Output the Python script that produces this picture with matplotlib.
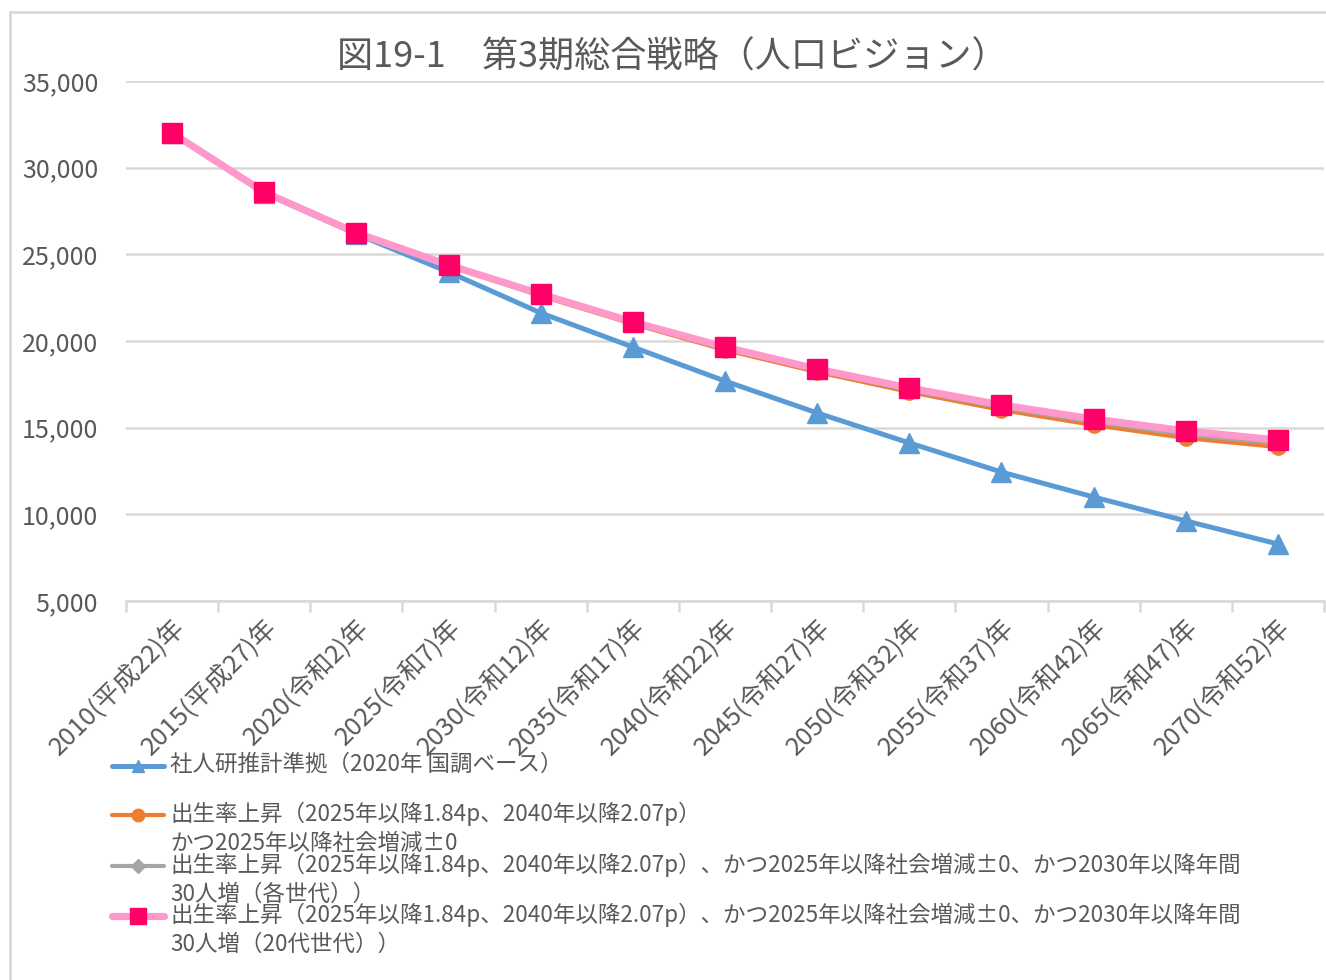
import matplotlib
matplotlib.use("Agg")
import matplotlib.pyplot as plt
from matplotlib.lines import Line2D
import matplotlib.transforms as mtransforms
import numpy as np

plt.rcParams['font.family'] = ['Noto Sans CJK JP', 'DejaVu Sans']

title = "図19-1　第3期総合戦略（人口ビジョン）"
categories = ["2010(平成22)年", "2015(平成27)年", "2020(令和2)年", "2025(令和7)年",
              "2030(令和12)年", "2035(令和17)年", "2040(令和22)年", "2045(令和27)年",
              "2050(令和32)年", "2055(令和37)年", "2060(令和42)年", "2065(令和47)年",
              "2070(令和52)年"]

series_ipss = [32000, 28540, 26170, 23980, 21620, 19650, 17690, 15850, 14120, 12440, 11000, 9620, 8290]
series_birth = [32000, 28560, 26200, 24330, 22600, 20980, 19480, 18210, 17060, 16020, 15150, 14400, 13880]
series_birth_30all = [32000, 28570, 26220, 24360, 22650, 21040, 19570, 18300, 17170, 16170, 15330, 14600, 14090]
series_birth_30twenties = [32000, 28580, 26240, 24380, 22710, 21100, 19650, 18380, 17290, 16310, 15500, 14810, 14290]

labels = [
    "社人研推計準拠（2020年 国調ベース）",
    "出生率上昇（2025年以降1.84p、2040年以降2.07p）\nかつ2025年以降社会増減±0",
    "出生率上昇（2025年以降1.84p、2040年以降2.07p）、かつ2025年以降社会増減±0、かつ2030年以降年間\n30人増（各世代））",
    "出生率上昇（2025年以降1.84p、2040年以降2.07p）、かつ2025年以降社会増減±0、かつ2030年以降年間\n30人増（20代世代））",
]

yticks = [5000, 10000, 15000, 20000, 25000, 30000, 35000]

W, H = 1326, 980
fig = plt.figure(figsize=(W / 100, H / 100), dpi=100)
fig.patch.set_facecolor("white")

def fx(px):
    return px / W

def fy(py):
    return 1 - py / H

ax = fig.add_axes([fx(126), fy(601), fx(1324) - fx(126), fy(81) - fy(601)])

x = np.arange(len(categories))
text_color = "#595959"
grid_color = "#D9D9D9"

styles = [
    dict(color="#5B9BD5", lw=3.6, marker="^", ms=15, mfc="#5B9BD5", mec="#5B9BD5"),
    dict(color="#ED7D31", lw=3.0, marker="o", ms=11, mfc="#ED7D31", mec="#ED7D31"),
    dict(color="#A5A5A5", lw=3.0, marker="D", ms=5, mfc="#A5A5A5", mec="#A5A5A5"),
    dict(color="#FF99CC", lw=5.2, marker="s", ms=14, mfc="#FF0066", mec="#FF0066"),
]
data = [series_ipss, series_birth, series_birth_30all, series_birth_30twenties]

for d, st in zip(data, styles):
    ax.plot(x, d, solid_joinstyle="round", solid_capstyle="round", zorder=3, **st)

ax.set_xlim(-0.5, len(categories) - 0.5)
ax.set_ylim(5000, 35000)
ax.set_yticks(yticks)
ax.set_yticklabels([f"{v:,}" for v in yticks], fontsize=18, color=text_color)
ax.yaxis.grid(True, color=grid_color, lw=1.8)
ax.set_axisbelow(True)
ax.tick_params(axis="y", length=0, pad=20)

for s in ["top", "right", "left"]:
    ax.spines[s].set_visible(False)
ax.spines["bottom"].set_color(grid_color)
ax.spines["bottom"].set_linewidth(1.8)

ax.set_xticks(x)
ax.set_xticklabels(categories, fontsize=18.5, color=text_color, rotation=45,
                   ha="right", va="center", rotation_mode="anchor")
ax.set_xticks(np.arange(-0.5, len(categories), 1.0), minor=True)
ax.tick_params(axis="x", which="major", length=0, pad=16)
ax.tick_params(axis="x", which="minor", length=8, width=1.8, color=grid_color)
offset = mtransforms.ScaledTranslation(8 / 100, 0, fig.dpi_scale_trans)
for lab in ax.get_xticklabels():
    lab.set_transform(lab.get_transform() + offset)

fig.text(fx(672), fy(58), title, fontsize=26, color=text_color, ha="center", va="center")

# chart area frame
fig.add_artist(Line2D([fx(10), fx(10)], [fy(12), 0], color=grid_color, lw=2, transform=fig.transFigure))
fig.add_artist(Line2D([fx(10), 1], [fy(12), fy(12)], color=grid_color, lw=2, transform=fig.transFigure))

# legend (manual, Excel-style)
legend_y = [766, 815, 866, 916]
legend_ms = [9, 9, 7, 11]
for lab, st, yy, lms in zip(labels, styles, legend_y, legend_ms):
    fig.add_artist(Line2D([fx(112), fx(164)], [fy(yy), fy(yy)], color=st["color"], lw=st["lw"],
                          solid_capstyle="round", transform=fig.transFigure))
    fig.add_artist(Line2D([fx(138)], [fy(yy)], marker=st["marker"], ms=lms, mfc=st["mfc"],
                          mec=st["mec"], lw=0, transform=fig.transFigure))
    fig.text(fx(170), fy(yy - 13), lab, fontsize=16.2, color=text_color, ha="left", va="top",
             linespacing=1.32)

fig.savefig("out.png", dpi=100, facecolor="white")
